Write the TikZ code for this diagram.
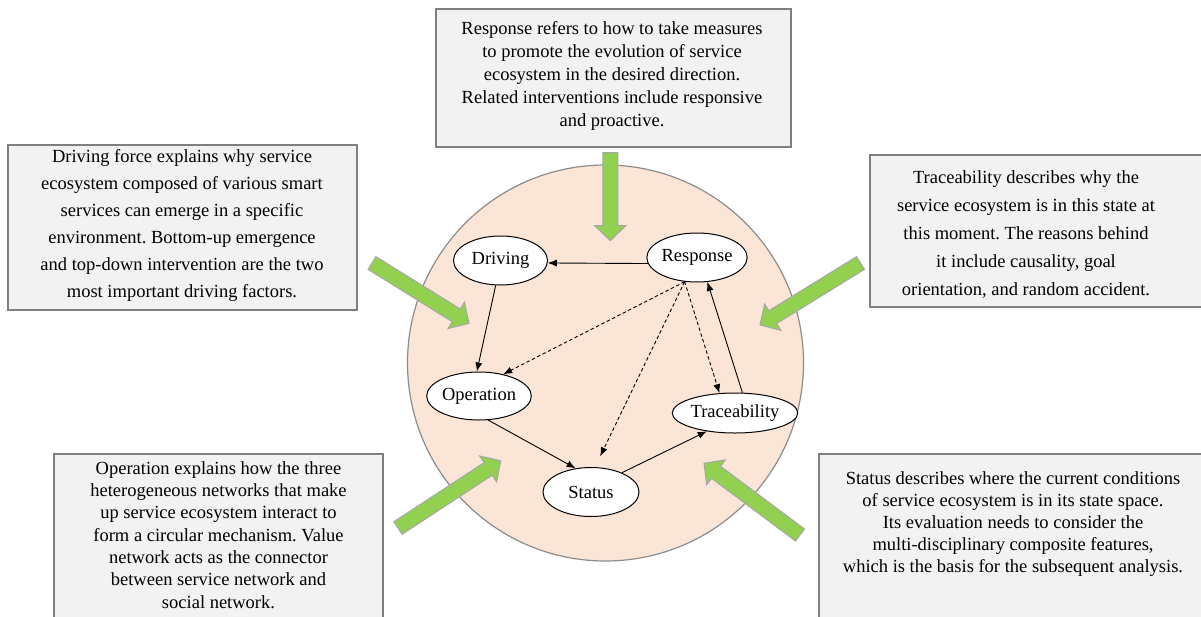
\documentclass[tikz,border=0pt]{standalone}
\usepackage{fontspec}
\setmainfont{Liberation Serif}
\usetikzlibrary{calc,arrows.meta,shapes.geometric}
\frenchspacing
\definecolor{boxfill}{HTML}{F2F2F2}
\definecolor{boxline}{HTML}{7F7F7F}
\definecolor{peach}{HTML}{FBE5D6}
\definecolor{circline}{HTML}{8C8C8C}
\definecolor{ggreen}{HTML}{92D050}
\definecolor{gline}{HTML}{A6A6A6}
\tikzset{
 infobox/.style={draw=boxline, fill=boxfill, line width=1.2pt},
 infotext/.style={align=center, inner sep=0pt},
 stage/.style={ellipse, draw=black, fill=white, line width=1pt, inner sep=0pt, font=\fontsize{18.5}{22}\selectfont},
 flow/.style={-{Latex[length=9pt,width=7pt]}, line width=0.9pt},
 hint/.style={flow, dash pattern=on 3.5pt off 2.5pt},
 greenarrow/.style={fill=ggreen, draw=gline, line width=1pt, line join=miter},
}
\newcommand{\garrow}[2]{%
  \coordinate (gb) at ($(#2)!15pt!(#1)$);
  \draw[greenarrow] ($(#1)!7.5pt!90:(#2)$) -- ($(gb)!7.5pt!90:(#2)$) -- ($(gb)!15.5pt!90:(#2)$) -- (#2) -- ($(gb)!15.5pt!-90:(#2)$) -- ($(gb)!7.5pt!-90:(#2)$) -- ($(#1)!7.5pt!-90:(#2)$) -- cycle;}
\begin{document}
\begin{tikzpicture}[x=1pt,y=-1pt]
\useasboundingbox (0,0) rectangle (1201,616);
\fill[white] (0,0) rectangle (1201,616);

% text boxes
\draw[infobox] (436,9) rectangle (791,147);
\node[infotext, font=\fontsize{18.5}{23}\selectfont] (tresp) at (612,76) {Response refers to how to take measures\\to promote the evolution of service\\ecosystem in the desired direction.\\Related interventions include responsive\\and proactive.};

\draw[infobox] (8,145) rectangle (357,310);
\node[infotext, font=\fontsize{18.5}{27}\selectfont] (tdriv) at (182,225) {Driving force explains why service\\ecosystem composed of various smart\\services can emerge in a specific\\environment. Bottom-up emergence\\and top-down intervention are the two\\most important driving factors.};

\draw[infobox] (870,155) rectangle (1208,307);
\node[infotext, font=\fontsize{18.5}{28}\selectfont] (ttrac) at (1026,234) {Traceability describes why the\\service ecosystem is in this state at\\this moment. The reasons behind\\it include causality, goal\\orientation, and random accident.};

\draw[infobox] (54,454) rectangle (383,620);
\node[infotext, font=\fontsize{18.5}{22.3}\selectfont] (toper) at (218.5,535) {Operation explains how the three\\heterogeneous networks that make\\up service ecosystem interact to\\form a circular mechanism. Value\\network acts as the connector\\between service network and\\social network.};

\draw[infobox] (819,454) rectangle (1210,620);
\node[infotext, font=\fontsize{18.5}{22}\selectfont] (tstat) at (1013,524) {Status describes where the current conditions\\of service ecosystem is in its state space.\\Its evaluation needs to consider the\\multi-disciplinary composite features,\\which is the basis for the subsequent analysis.};

% ecosystem circle
\node[circle, draw=circline, fill=peach, line width=1.2pt, minimum size=396pt, inner sep=0pt] (eco) at (605.5,363) {};

% green arrows
\coordinate (g1a) at (610.3,152.5); \coordinate (g1b) at (610.3,240.7);
\coordinate (g2a) at (372,263);     \coordinate (g2b) at (469,323.3);
\coordinate (g3a) at (860.5,263);   \coordinate (g3b) at (760,325);
\coordinate (g4a) at (398,528);     \coordinate (g4b) at (500.7,460.7);
\coordinate (g5a) at (800,535);     \coordinate (g5b) at (704,463.3);
\garrow{g1a}{g1b}
\garrow{g2a}{g2b}
\garrow{g3a}{g3b}
\garrow{g4a}{g4b}
\garrow{g5a}{g5b}

% stages
\node[stage, minimum width=94pt, minimum height=49pt] (D) at (500.5,260.5) {Driving};
\node[stage, minimum width=96pt, minimum height=49pt] (R) at (697,257.5) {Response};
\node[stage, minimum width=102pt, minimum height=48pt] (O) at (479,396) {Operation};
\node[stage, minimum width=110pt, minimum height=40pt] (T) at (735,413) {Traceability};
\node[stage, minimum width=96pt, minimum height=49pt] (S) at (591,492) {Status};

% connectors
\draw[flow] (R.187) -- (D.-3);
\draw[flow] (D.259) -- (O.95);
\draw[flow] (O.291) -- (S.123);
\draw[flow] (S.32) -- (T.213);
\draw[flow] (T.70) -- (R.293);
\draw[hint] (R.243) -- (O.42);
\draw[hint, shorten >=12pt] (R.243) -- (S.81);
\draw[hint] (R.243) -- (T.128);
\end{tikzpicture}
\end{document}
